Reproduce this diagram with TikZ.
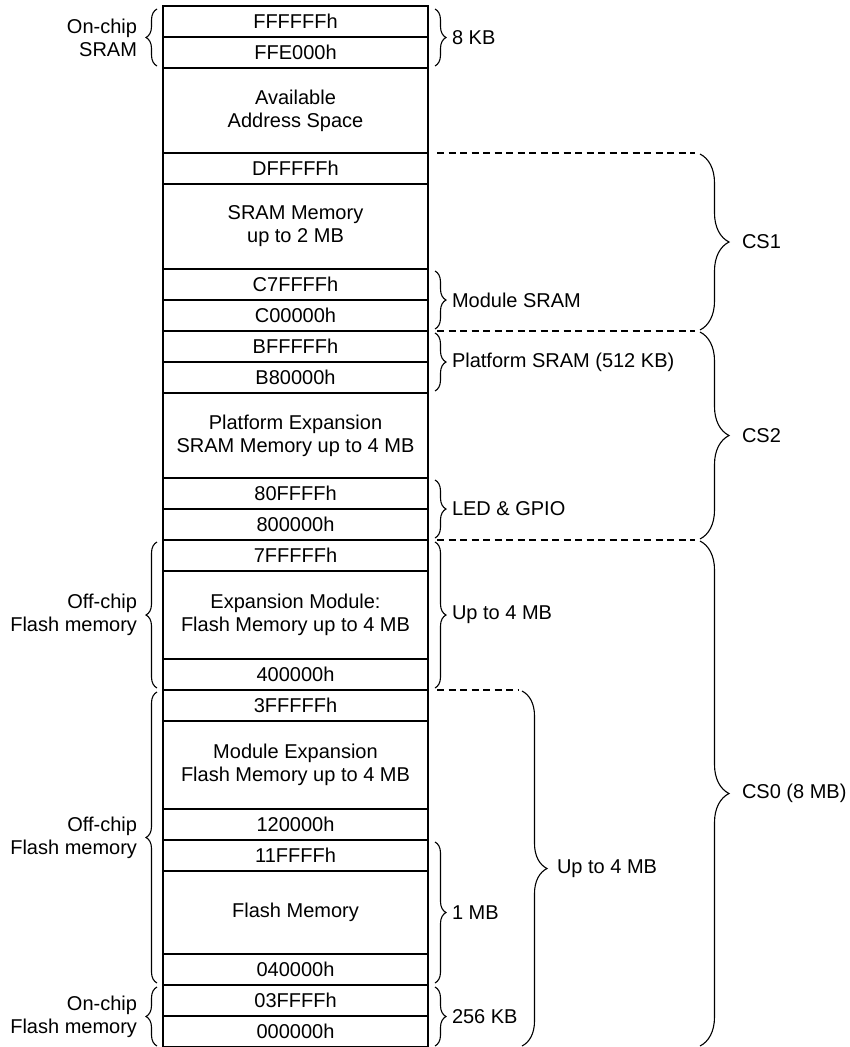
\documentclass[tikz,border=0pt]{standalone}
\usepackage{fontspec}
\setmainfont{Liberation Sans}
\usetikzlibrary{decorations.pathreplacing}
\begin{document}
\begin{tikzpicture}[x=1pt,y=-1pt,
  cell/.style={draw, line width=2.4pt, minimum width=265pt, inner sep=0pt, outer sep=0pt,
    align=center, font=\fontsize{20}{23}\selectfont},
  brc/.style={decorate, decoration={brace, amplitude=#1}, line width=1.1pt},
  lab/.style={inner sep=0pt, outer sep=0pt, font=\fontsize{20}{23}\selectfont},
  labr/.style={lab, midway, anchor=west, xshift=#1},
  labl/.style={lab, midway, anchor=east, align=right, xshift=-20pt},
  dsh/.style={line width=1.4pt, dash pattern=on 7pt off 4.5pt}]
\useasboundingbox (0,0) rectangle (850,1047);

% memory rows
\node[cell, minimum height=31pt] (r1)  at (295.5,21.5)  {FFFFFFh};
\node[cell, minimum height=31pt] (r2)  at (295.5,52.5)  {FFE000h};
\node[cell, minimum height=85pt] (r3)  at (295.5,110.5) {Available\\Address Space};
\node[cell, minimum height=31pt] (r4)  at (295.5,168.5) {DFFFFFh};
\node[cell, minimum height=85pt] (r5)  at (295.5,226.5) {SRAM Memory\\up to 2 MB};
\node[cell, minimum height=31pt] (r6)  at (295.5,284.5) {C7FFFFh};
\node[cell, minimum height=31pt] (r7)  at (295.5,315.5) {C00000h};
\node[cell, minimum height=31pt] (r8)  at (295.5,346.5) {BFFFFFh};
\node[cell, minimum height=31pt] (r9)  at (295.5,377.5) {B80000h};
\node[cell, minimum height=85pt] (r10) at (295.5,435.5) {Platform Expansion\\SRAM Memory up to 4 MB};
\node[cell, minimum height=31pt] (r11) at (295.5,493.5) {80FFFFh};
\node[cell, minimum height=31pt] (r12) at (295.5,524.5) {800000h};
\node[cell, minimum height=31pt] (r13) at (295.5,555.5) {7FFFFFh};
\node[cell, minimum height=88pt] (r14) at (295.5,615)   {Expansion Module:\\Flash Memory up to 4 MB};
\node[cell, minimum height=31pt] (r15) at (295.5,674.5) {400000h};
\node[cell, minimum height=31pt] (r16) at (295.5,705.5) {3FFFFFh};
\node[cell, minimum height=88pt] (r17) at (295.5,765)   {Module Expansion\\Flash Memory up to 4 MB};
\node[cell, minimum height=31pt] (r18) at (295.5,824.5) {120000h};
\node[cell, minimum height=31pt] (r19) at (295.5,855.5) {11FFFFh};
\node[cell, minimum height=83pt] (r20) at (295.5,912.5) {Flash Memory};
\node[cell, minimum height=31pt] (r21) at (295.5,969.5) {040000h};
\node[cell, minimum height=31pt] (r22) at (295.5,1000.5){03FFFFh};
\node[cell, minimum height=31pt] (r23) at (295.5,1031.5){000000h};

% left braces
\draw[brc=11] ([xshift=-6pt,yshift=2pt]r2.south west) -- node[labl]{On-chip\\SRAM} ([xshift=-6pt,yshift=-3pt]r1.north west);
\draw[brc=11] ([xshift=-6pt,yshift=2pt]r15.south west) -- node[labl]{Off-chip\\Flash memory} ([xshift=-6pt,yshift=-2pt]r13.north west);
\draw[brc=11] ([xshift=-6pt,yshift=2pt]r21.south west) -- node[labl]{Off-chip\\Flash memory} ([xshift=-6pt,yshift=-2pt]r16.north west);
\draw[brc=11] ([xshift=-6pt,yshift=1pt]r23.south west) -- node[labl]{On-chip\\Flash memory} ([xshift=-6pt,yshift=-2pt]r22.north west);

% small right braces
\draw[brc=11] ([xshift=7pt,yshift=-3pt]r1.north east) -- node[labr=17pt]{8 KB} ([xshift=7pt,yshift=2pt]r2.south east);
\draw[brc=11] ([xshift=7pt,yshift=-2pt]r6.north east) -- node[labr=17pt]{Module SRAM} ([xshift=7pt,yshift=2pt]r7.south east);
\draw[brc=11] ([xshift=7pt,yshift=-2pt]r8.north east) -- node[labr=17pt]{Platform SRAM (512 KB)} ([xshift=7pt,yshift=2pt]r9.south east);
\draw[brc=11] ([xshift=7pt,yshift=-2pt]r11.north east) -- node[labr=17pt]{LED \& GPIO} ([xshift=7pt,yshift=2pt]r12.south east);
\draw[brc=11] ([xshift=7pt,yshift=-2pt]r13.north east) -- node[labr=17pt]{Up to 4 MB} ([xshift=7pt,yshift=2pt]r15.south east);
\draw[brc=11] ([xshift=7pt,yshift=-2pt]r19.north east) -- node[labr=17pt]{1 MB} ([xshift=7pt,yshift=2pt]r21.south east);
\draw[brc=11] ([xshift=7pt,yshift=-2pt]r22.north east) -- node[labr=17pt]{256 KB} ([xshift=7pt,yshift=1pt]r23.south east);

% dashed boundaries
\draw[dsh] ([xshift=9pt]r4.north east) -- ([xshift=267pt]r4.north east);
\draw[dsh] ([xshift=9pt]r7.south east) -- ([xshift=267pt]r7.south east);
\draw[dsh] ([xshift=9pt]r12.south east) -- ([xshift=267pt]r12.south east);
\draw[dsh] ([xshift=9pt]r16.north east) -- ([xshift=90pt]r16.north east);

% large right braces
\draw[brc=29] ([xshift=272pt,yshift=-1pt]r4.north east) -- node[labr=42pt]{CS1} ([xshift=272pt,yshift=1pt]r7.south east);
\draw[brc=29] ([xshift=272pt,yshift=-1pt]r8.north east) -- node[labr=42pt]{CS2} ([xshift=272pt,yshift=1pt]r12.south east);
\draw[brc=29] ([xshift=272pt,yshift=-1pt]r13.north east) -- node[labr=42pt]{CS0 (8 MB)} ([xshift=272pt,yshift=1pt]r23.south east);
\draw[brc=25] ([xshift=94pt,yshift=-1pt]r16.north east) -- node[labr=35pt]{Up to 4 MB} ([xshift=94pt,yshift=1pt]r23.south east);
\end{tikzpicture}
\end{document}
